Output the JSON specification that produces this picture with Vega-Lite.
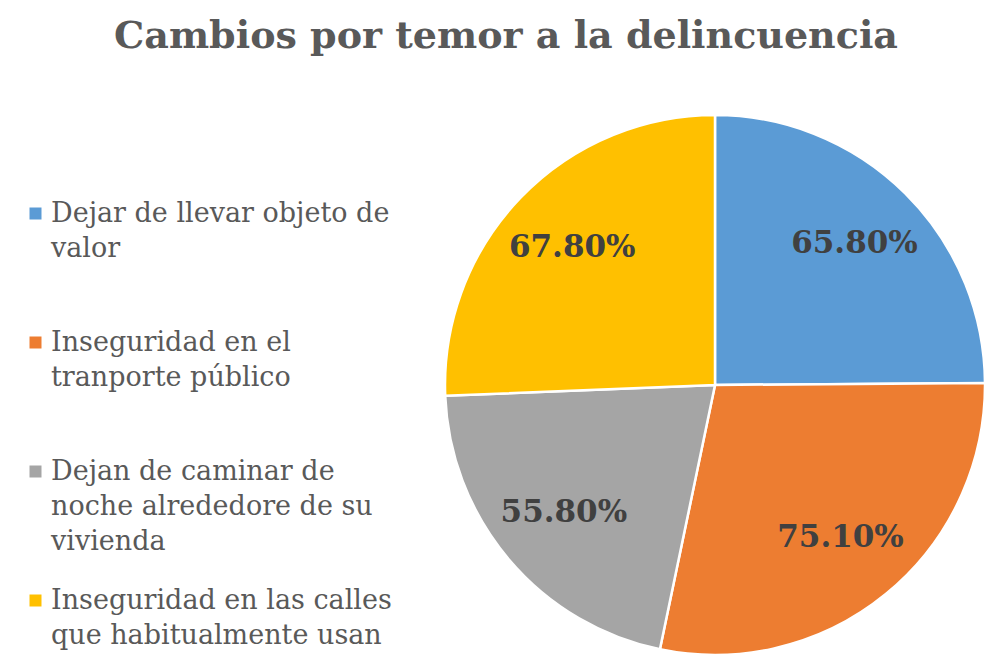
{
  "$schema": "https://vega.github.io/schema/vega-lite/v6.json",
  "width": 540,
  "height": 540,
  "autosize": {"type": "none"},
  "padding": {"left": 445, "top": 115, "right": 3, "bottom": 13},
  "background": "white",
  "title": {
    "text": "Cambios por temor a la delincuencia",
    "font": "DejaVu Serif",
    "fontSize": 38,
    "fontWeight": "bold",
    "color": "#595959",
    "anchor": "middle",
    "frame": "bounds",
    "offset": 54
  },
  "data": {
    "values": [
      {"categoria": "Dejar de llevar objeto de valor", "valor": 0.658, "orden": 1},
      {"categoria": "Inseguridad en el tranporte público", "valor": 0.751, "orden": 2},
      {"categoria": "Dejan de caminar de noche alrededore de su vivienda", "valor": 0.558, "orden": 3},
      {"categoria": "Inseguridad en las calles que habitualmente usan", "valor": 0.678, "orden": 4}
    ]
  },
  "encoding": {
    "theta": {"field": "valor", "type": "quantitative", "stack": true},
    "order": {"field": "orden", "type": "quantitative"}
  },
  "layer": [
    {
      "mark": {"type": "arc", "stroke": "white", "strokeWidth": 2.5},
      "encoding": {
        "color": {
          "field": "categoria",
          "type": "nominal",
          "scale": {
            "domain": [
              "Dejar de llevar objeto de valor",
              "Inseguridad en el tranporte público",
              "Dejan de caminar de noche alrededore de su vivienda",
              "Inseguridad en las calles que habitualmente usan"
            ],
            "range": ["#5B9BD5", "#ED7D31", "#A5A5A5", "#FFC000"]
          },
          "legend": {
            "orient": "none",
            "legendX": -423,
            "legendY": 85,
            "title": null,
            "labelFont": "DejaVu Serif",
            "labelFontSize": 27,
            "labelColor": "#595959",
            "labelLimit": 600,
            "labelOffset": 2,
            "labelBaseline": "top",
            "symbolType": "square",
            "symbolSize": 144,
            "symbolStrokeWidth": 0,
            "rowPadding": 31,
            "gridAlign": "all",
            "labelExpr": "datum.value == 'Dejar de llevar objeto de valor' ? ['Dejar de llevar objeto de', 'valor'] : datum.value == 'Inseguridad en el tranporte público' ? ['Inseguridad en el', 'tranporte público'] : datum.value == 'Dejan de caminar de noche alrededore de su vivienda' ? ['Dejan de caminar de', 'noche alrededore de su', 'vivienda'] : ['Inseguridad en las calles', 'que habitualmente usan']"
          }
        }
      }
    },
    {
      "mark": {
        "type": "text",
        "radius": 198,
        "font": "DejaVu Serif",
        "fontSize": 31,
        "fontWeight": "bold"
      },
      "encoding": {
        "text": {"field": "valor", "type": "quantitative", "format": ".2%"},
        "detail": {"field": "categoria", "type": "nominal"},
        "color": {"value": "#404040"}
      }
    }
  ],
  "config": {
    "view": {"stroke": null},
    "style": {"guide-label": {"lineHeight": 35, "dy": -13}}
  }
}
